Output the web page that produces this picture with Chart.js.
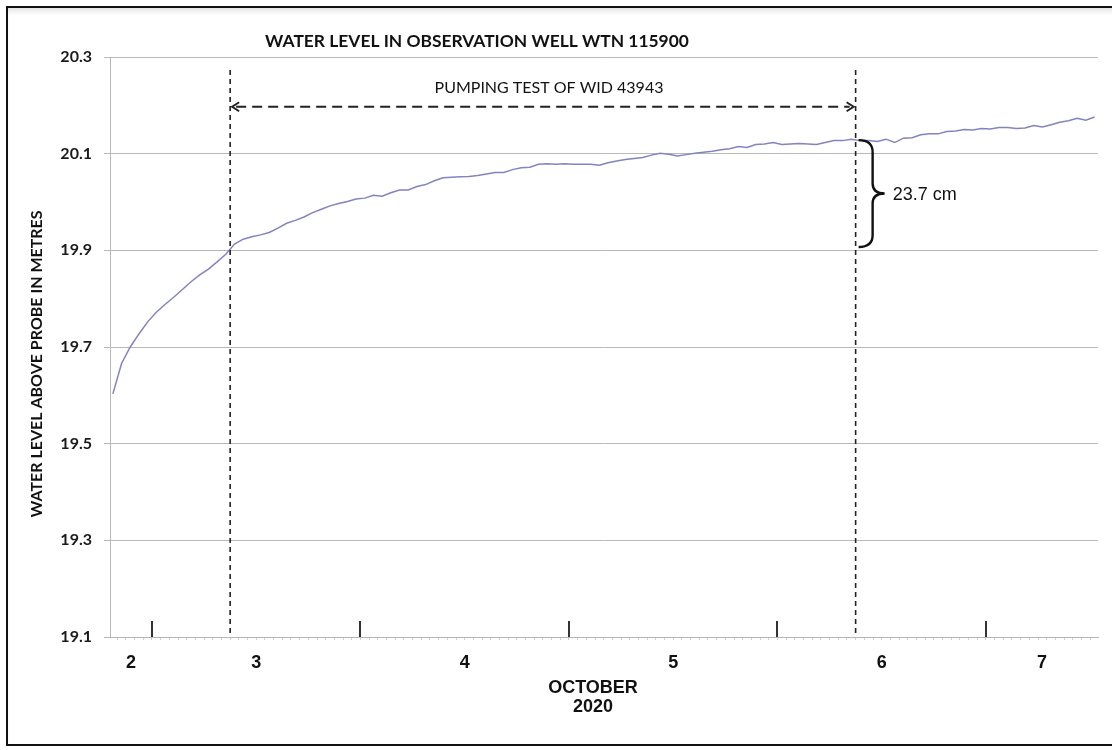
<!DOCTYPE html>
<html lang="en">
<head>
<meta charset="UTF-8">
<title>Water Level in Observation Well WTN 115900</title>
<script src="https://cdn.jsdelivr.net/npm/chart.js"></script>
<style>
    html, body {
        margin: 0;
        padding: 0;
        background: #fff;
        overflow: hidden;
    }
    .frame {
        position: absolute;
        left: 6px;
        top: 6px;
        width: 1130px;
        height: 736px;
        border: 2px solid #111;
        box-shadow: inset 0 6px 6px -4px rgba(0,0,0,0.15);
    }
    #wellChart {
        position: absolute;
        left: 0;
        top: 0;
    }
</style>
</head>
<body>
<div class="frame"></div>
<canvas id="wellChart" width="1112" height="750"></canvas>

<script>
// time is counted in hours from 3 October 2020, 00:00 (readings are hourly)
const firstReadingHour = -4.5;
const waterLevel = [
    19.603, 19.666, 19.700, 19.727, 19.752, 19.772, 19.788, 19.803, 19.819, 19.835,
    19.849, 19.861, 19.876, 19.892, 19.913, 19.923, 19.928, 19.932, 19.937, 19.946,
    19.956, 19.962, 19.969, 19.978, 19.985, 19.992, 19.997, 20.001, 20.006, 20.008,
    20.014, 20.012, 20.019, 20.025, 20.025, 20.032, 20.036, 20.044, 20.050, 20.051,
    20.052, 20.053, 20.055, 20.058, 20.061, 20.061, 20.067, 20.071, 20.072, 20.078,
    20.079, 20.078, 20.079, 20.078, 20.078, 20.078, 20.076, 20.081, 20.085, 20.088,
    20.090, 20.092, 20.097, 20.101, 20.099, 20.095, 20.098, 20.101, 20.103, 20.105,
    20.108, 20.110, 20.115, 20.113, 20.119, 20.120, 20.123, 20.119, 20.120, 20.121,
    20.120, 20.119, 20.123, 20.127, 20.127, 20.130, 20.127, 20.127, 20.125, 20.130,
    20.123, 20.132, 20.133, 20.139, 20.141, 20.141, 20.146, 20.147, 20.150, 20.149,
    20.152, 20.151, 20.154, 20.154, 20.152, 20.153, 20.158, 20.155, 20.160, 20.165,
    20.168, 20.173, 20.169, 20.176
];
const yTicks = [19.1, 19.3, 19.5, 19.7, 19.9, 20.1, 20.3];
const dayLabels = ['2', '3', '4', '5', '6', '7'];
const dayStarts = [-24, 0, 24, 48, 72, 96];   // midnight of each labelled day
const xMin = -4.83, xMax = 108.9;

// pumping test of WID 43943 (9:00 Oct 3 -> 9:00 Oct 6)
const pumpStart = 9, pumpEnd = 81;
const recoveryTop = 20.128, recoveryBottom = 19.907;

const points = waterLevel.map((v, i) => ({ x: firstReadingHour + i, y: v }));

const hourTicks = [];
for (let h = Math.ceil(xMin); h <= xMax; h++) hourTicks.push(h);

const sans = "Lato, 'Open Sans', sans-serif";
const arial = "'Liberation Sans', Arial, sans-serif";

const overlay = {
    id: 'overlay',
    afterDraw(chart) {
        const ctx = chart.ctx;
        const xs = chart.scales.x, ys = chart.scales.y;
        const area = chart.chartArea;
        const px = h => xs.getPixelForValue(h);
        const py = v => ys.getPixelForValue(v);
        ctx.save();

        // day boundary ticks pointing up into the plot
        ctx.strokeStyle = '#333';
        ctx.lineWidth = 2;
        dayStarts.forEach(h => {
            if (h <= xMin || h >= xMax) return;
            ctx.beginPath();
            ctx.moveTo(Math.round(px(h)), area.bottom);
            ctx.lineTo(Math.round(px(h)), area.bottom - 16);
            ctx.stroke();
        });

        // dashed vertical lines at start / end of pumping
        ctx.strokeStyle = '#222';
        ctx.lineWidth = 1.6;
        ctx.setLineDash([5, 4]);
        [pumpStart, pumpEnd].forEach(h => {
            ctx.beginPath();
            ctx.moveTo(px(h), py(20.273));
            ctx.lineTo(px(h), area.bottom);
            ctx.stroke();
        });

        // double arrow
        const ay = py(20.197);
        const ax1 = px(pumpStart) + 2, ax2 = px(pumpEnd) - 2;
        ctx.lineWidth = 2;
        ctx.setLineDash([10, 6]);
        ctx.beginPath();
        ctx.moveTo(ax1 + 4, ay);
        ctx.lineTo(ax2 - 4, ay);
        ctx.stroke();
        ctx.setLineDash([]);
        ctx.beginPath();
        ctx.moveTo(ax1 + 7, ay - 4.5);
        ctx.lineTo(ax1, ay);
        ctx.lineTo(ax1 + 7, ay + 4.5);
        ctx.moveTo(ax2 - 7, ay - 4.5);
        ctx.lineTo(ax2, ay);
        ctx.lineTo(ax2 - 7, ay + 4.5);
        ctx.stroke();

        ctx.fillStyle = '#111';
        ctx.font = '16px ' + sans;
        ctx.textAlign = 'center';
        ctx.textBaseline = 'middle';
        ctx.fillText('PUMPING TEST OF WID 43943', 549, py(20.236));

        // brace showing recovery over the test
        const bTop = py(recoveryTop), bBot = py(recoveryBottom), bMid = (bTop + bBot) / 2;
        const bx0 = px(pumpEnd) + 3, bs = bx0 + 14, tip = bs + 12;
        ctx.strokeStyle = '#111';
        ctx.lineWidth = 2.4;
        ctx.beginPath();
        ctx.moveTo(bx0, bTop);
        ctx.quadraticCurveTo(bs, bTop, bs, bTop + 12);
        ctx.lineTo(bs, bMid - 10);
        ctx.quadraticCurveTo(bs, bMid, tip, bMid);
        ctx.quadraticCurveTo(bs, bMid, bs, bMid + 10);
        ctx.lineTo(bs, bBot - 12);
        ctx.quadraticCurveTo(bs, bBot, bx0, bBot);
        ctx.stroke();
        ctx.font = '18px ' + arial;
        ctx.textAlign = 'left';
        ctx.fillText('23.7 cm', tip + 8, bMid + 1);

        // title
        ctx.font = 'bold 17.4px ' + sans;
        ctx.textAlign = 'center';
        ctx.fillText('WATER LEVEL IN OBSERVATION WELL WTN 115900', 477, 41);

        // y axis title
        ctx.save();
        ctx.translate(37, 364);
        ctx.rotate(-Math.PI / 2);
        ctx.font = 'bold 16px ' + sans;
        ctx.fillText('WATER LEVEL ABOVE PROBE IN METRES', 0, 0);
        ctx.restore();

        // day labels centred on the visible part of each day
        ctx.font = 'bold 18px ' + arial;
        dayLabels.forEach((lab, i) => {
            const a = Math.max(xMin, dayStarts[i]);
            const b = Math.min(xMax, dayStarts[i] + 24);
            ctx.fillText(lab, (px(a) + px(b)) / 2, area.bottom + 26);
        });
        ctx.fillText('OCTOBER', 593, area.bottom + 51);
        ctx.fillText('2020', 593, area.bottom + 70);

        ctx.restore();
    }
};

const chart = new Chart(document.getElementById('wellChart'), {
    type: 'line',
    data: {
        datasets: [{
            data: points,
            borderColor: '#8383c0',
            borderWidth: 1.5,
            pointRadius: 0,
            tension: 0,
            fill: false
        }]
    },
    options: {
        responsive: false,
        animation: false,
        events: [],
        layout: { padding: { top: 57, right: 14, bottom: 0, left: 0 } },
        plugins: {
            legend: { display: false },
            tooltip: { enabled: false },
            title: { display: false }
        },
        scales: {
            x: {
                type: 'linear',
                min: xMin,
                max: xMax,
                afterBuildTicks: s => { s.ticks = hourTicks.map(v => ({ value: v })); },
                afterFit: s => { s.height = 113; },
                ticks: { display: false },
                grid: { drawOnChartArea: false, tickLength: 3, color: '#cfcfcf' },
                border: { color: '#b5b5b5', width: 1 }
            },
            y: {
                min: 19.1,
                max: 20.3,
                afterBuildTicks: s => { s.ticks = yTicks.map(v => ({ value: v })); },
                afterFit: s => { s.width = 110; },
                ticks: {
                    padding: 12,
                    color: '#1a1a1a',
                    font: { family: sans, size: 16, weight: 'bold' },
                    callback: v => v.toFixed(1)
                },
                grid: { color: '#b8b8b8', tickLength: 6, lineWidth: 1 },
                border: { color: '#b8b8b8', width: 1 }
            }
        }
    },
    plugins: [overlay]
});
</script>
</body>
</html>
